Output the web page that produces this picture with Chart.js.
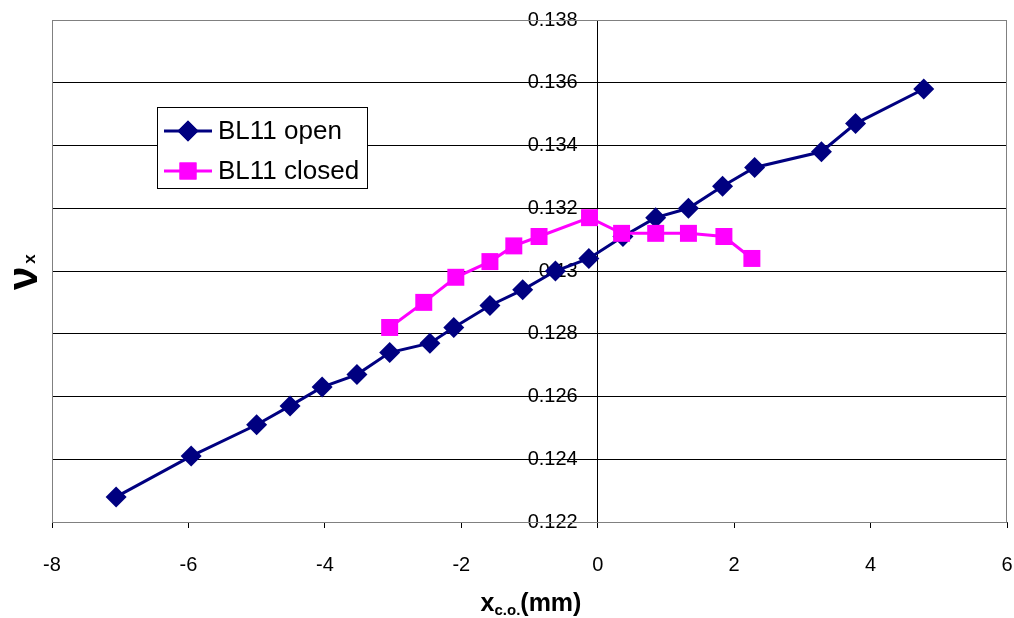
<!DOCTYPE html>
<html>
<head>
<meta charset="utf-8">
<script src="https://cdn.jsdelivr.net/npm/chart.js@4"></script>
<style>
  html, body { margin: 0; padding: 0; background: #fff; }
  #wrap { width: 1014px; height: 618px; }
</style>
</head>
<body>
<div id="wrap"><canvas id="tune-graph" width="1014" height="618"></canvas></div>
<script>
const tuneGraph = document.querySelector("#tune-graph");

// BL11 open
const openX = [-7.06, -5.96, -5.0, -4.51, -4.04, -3.53, -3.05, -2.46, -2.11, -1.58, -1.10,
  -0.62, -0.13, 0.37, 0.85, 1.33, 1.83, 2.30, 3.28, 3.78, 4.78];
const openY = [0.1228, 0.1241, 0.1251, 0.1257, 0.1263, 0.1267, 0.1274, 0.1277, 0.1282, 0.1289, 0.1294,
  0.1300, 0.1304, 0.1311, 0.1317, 0.1320, 0.1327, 0.1333, 0.1338, 0.1347, 0.1358];

// BL11 closed
const closedX = [-3.05, -2.55, -2.08, -1.58, -1.23, -0.86, -0.12, 0.35, 0.85, 1.33, 1.85, 2.26];
const closedY = [0.1282, 0.1290, 0.1298, 0.1303, 0.1308, 0.1311, 0.1317, 0.1312, 0.1312, 0.1312, 0.1311, 0.1304];

const seriesNames = ["BL11 open", "BL11 closed"];
const xTicks = [-8, -6, -4, -2, 0, 2, 4, 6];
const yTicks = [0.122, 0.124, 0.126, 0.128, 0.13, 0.132, 0.134, 0.136, 0.138];

const navy = "#000080";
const magenta = "#FF00FF";

const toPoints = (xs, ys) => xs.map((x, i) => ({ x: x, y: ys[i] }));

// keep tick label overhang from eating into the plot area
const noPadding = (scale) => {
  scale.paddingLeft = 0;
  scale.paddingRight = 0;
  scale.paddingTop = 0;
  scale.paddingBottom = 0;
};

// plot border + legend + axis titles with subscripts
const extrasPlugin = {
  id: "extras",
  beforeDraw(chart) {
    // y labels sit left of the axis at x = 0, clear of the tick marks
    chart.scales.y.getLabelItems(chart.chartArea).forEach(item => {
      if (!item._shifted) {
        item.options.translation[0] -= 20;
        item._shifted = true;
      }
    });
  },
  beforeDatasetsDraw(chart) {
    const { ctx, chartArea: a } = chart;
    ctx.save();
    ctx.strokeStyle = "#808080";
    ctx.lineWidth = 1;
    ctx.strokeRect(a.left + 0.5, a.top + 0.5, a.right - a.left - 1, a.bottom - a.top);
    ctx.restore();
  },
  afterDraw(chart) {
    const { ctx } = chart;
    ctx.save();

    // legend
    const lx = 157, ly = 107, lw = 210, lh = 81;
    ctx.fillStyle = "#fff";
    ctx.fillRect(lx, ly, lw, lh);
    ctx.strokeStyle = "#000";
    ctx.lineWidth = 1;
    ctx.strokeRect(lx + 0.5, ly + 0.5, lw, lh);
    const rows = [
      { name: seriesNames[0], color: navy, style: "rectRot", r: 10.5, y: 131 },
      { name: seriesNames[1], color: magenta, style: "rect", r: 12, y: 171 },
    ];
    rows.forEach(row => {
      ctx.strokeStyle = row.color;
      ctx.lineWidth = 3;
      ctx.beginPath();
      ctx.moveTo(164, row.y);
      ctx.lineTo(212, row.y);
      ctx.stroke();
      ctx.fillStyle = row.color;
      Chart.helpers.drawPoint(ctx, { pointStyle: row.style, radius: row.r, borderWidth: 0 }, 188, row.y);
      ctx.fill();
      ctx.fillStyle = "#000";
      ctx.font = "26px 'Liberation Sans', Arial, sans-serif";
      ctx.textBaseline = "middle";
      ctx.textAlign = "left";
      ctx.fillText(row.name, 218, row.y + 1);
    });

    // x axis title: x_c.o.(mm)
    ctx.fillStyle = "#000";
    ctx.textBaseline = "alphabetic";
    ctx.textAlign = "left";
    const big = "bold 25px 'Liberation Sans', Arial, sans-serif";
    const small = "bold 15px 'Liberation Sans', Arial, sans-serif";
    ctx.font = big;
    const w1 = ctx.measureText("x").width;
    const w3 = ctx.measureText("(mm)").width;
    ctx.font = small;
    const w2 = ctx.measureText("c.o.").width;
    let tx = 531 - (w1 + w2 + w3) / 2;
    const base = 611;
    ctx.font = big;
    ctx.fillText("x", tx, base);
    tx += w1;
    ctx.font = small;
    ctx.fillText("c.o.", tx, base + 4);
    tx += w2;
    ctx.font = big;
    ctx.fillText("(mm)", tx, base);

    // y axis title: nu_x
    ctx.translate(37, 290);
    ctx.rotate(-Math.PI / 2);
    ctx.font = "bold 42px 'Liberation Sans', Arial, sans-serif";
    ctx.fillText("\u03bd", 0, 0);
    const nw = ctx.measureText("\u03bd").width;
    ctx.font = "bold 17px 'Liberation Sans', Arial, sans-serif";
    ctx.fillText("x", nw + 3, -2);
    ctx.restore();
  },
};

const renderTuneGraph = () => {
  const tuneData = {
    datasets: [
      {
        label: seriesNames[0],
        data: toPoints(openX, openY),
        borderColor: navy,
        backgroundColor: navy,
        borderWidth: 3,
        pointStyle: "rectRot",
        pointRadius: 10.5,
        pointBorderWidth: 0,
        pointBackgroundColor: navy,
        order: 2,
      },
      {
        label: seriesNames[1],
        data: toPoints(closedX, closedY),
        borderColor: magenta,
        backgroundColor: magenta,
        borderWidth: 3,
        pointStyle: "rect",
        pointRadius: 12,
        pointBorderWidth: 0,
        pointBackgroundColor: magenta,
        order: 1,
      },
    ],
  };

  const tuneOptions = {
    responsive: false,
    animation: false,
    showLine: true,
    layout: { autoPadding: false, padding: { left: 52, right: 7, top: 20, bottom: 16 } },
    plugins: {
      legend: { display: false },
      tooltip: { enabled: false },
    },
    scales: {
      x: {
        type: "linear",
        position: "bottom",
        min: -8,
        max: 6,
        afterBuildTicks: (scale) => { scale.ticks = xTicks.map(v => ({ value: v })); },
        afterFit: noPadding,
        ticks: {
          color: "#000",
          padding: 25,
          maxRotation: 0,
          font: { family: "'Liberation Sans', Arial, sans-serif", size: 20 },
        },
        grid: { drawOnChartArea: false, drawTicks: true, tickLength: 6, color: "#000" },
        border: { color: "#333", width: 1 },
      },
      y: {
        type: "linear",
        position: { x: 0 },
        min: 0.122,
        max: 0.138,
        afterBuildTicks: (scale) => { scale.ticks = yTicks.map(v => ({ value: v })); },
        afterFit: (scale) => { scale.width = 0; noPadding(scale); },
        ticks: {
          color: "#000",
          padding: 0,
          font: { family: "'Liberation Sans', Arial, sans-serif", size: 20 },
          callback: (v) => String(+v.toFixed(3)),
        },
        grid: { color: "#000", lineWidth: 1, tickLength: 6 },
        border: { color: "#000", width: 1 },
      },
    },
  };

  new Chart(tuneGraph, {
    type: "scatter",
    data: tuneData,
    options: tuneOptions,
    plugins: [extrasPlugin],
  });
};

document.addEventListener("DOMContentLoaded", function () {
  renderTuneGraph();
});
</script>
</body>
</html>
